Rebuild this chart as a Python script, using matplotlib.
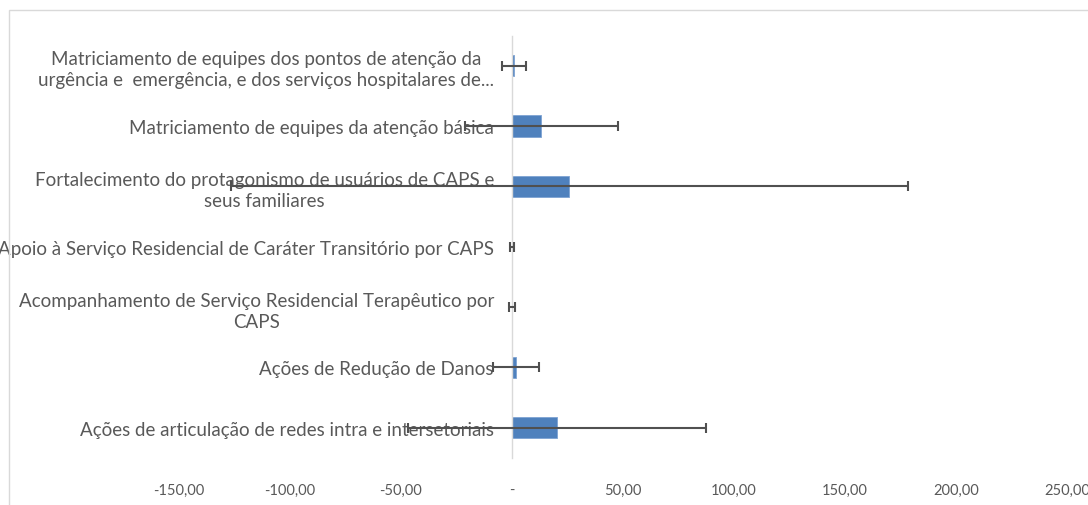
import matplotlib
matplotlib.use('Agg')
import matplotlib.pyplot as plt
from matplotlib.patches import Rectangle
import numpy as np

# categories, bottom to top as drawn
categories = [
    'Ações de articulação de redes intra e intersetoriais',
    'Ações de Redução de Danos',
    'Acompanhamento de Serviço Residencial Terapêutico por\nCAPS',
    'Apoio à Serviço Residencial de Caráter Transitório por CAPS',
    'Fortalecimento do protagonismo de usuários de CAPS e\nseus familiares',
    'Matriciamento de equipes da atenção básica',
    'Matriciamento de equipes dos pontos de atenção da\nurgência e  emergência, e dos serviços hospitalares de...',
]
means = [20.3, 1.8, 0.1, 0.0, 25.8, 13.2, 0.9]
errors = [67.0, 10.4, 1.4, 1.0, 152.4, 34.5, 5.3]
xticks = [-150, -100, -50, 0, 50, 100, 150, 200, 250]
xtick_labels = ['-150,00', '-100,00', '-50,00', '-', '50,00', '100,00', '150,00', '200,00', '250,00']

plt.rcParams['font.family'] = ['Lato', 'DejaVu Sans']
text_gray = '#595959'

fig = plt.figure(figsize=(10.88, 5.06), dpi=100)
ax = fig.add_axes([179 / 1088, 1 - 459 / 506, 888 / 1088, 422.5 / 506])

ypos = np.arange(len(categories))
ax.barh(ypos, means, height=0.35, color='#4f81bd', edgecolor='#7ea3d3',
        linewidth=0.6, zorder=1)
ax.errorbar(means, ypos, xerr=errors, fmt='none', ecolor='#505050',
            elinewidth=1.5, capsize=3.8, capthick=1.5, zorder=3)

ax.set_xlim(-150, 250)
ax.set_ylim(-0.5, 6.5)
ax.set_xticks(xticks, xtick_labels)
ax.set_yticks(ypos, categories)

for s in ['top', 'right', 'bottom']:
    ax.spines[s].set_visible(False)
ax.spines['left'].set_position(('data', 0))
ax.spines['left'].set_color('#d9d9d9')
ax.spines['left'].set_linewidth(1.0)

ax.tick_params(axis='y', length=0, pad=13, labelsize=13.5, labelcolor=text_gray)
ax.tick_params(axis='x', length=0, pad=18, labelsize=10.5, labelcolor=text_gray)
for lbl in ax.get_yticklabels():
    lbl.set_multialignment('center')
    lbl.set_linespacing(1.3)

# light chart border running off the image edge
fig.patches.append(Rectangle((8.5 / 1088, -0.1), 1.2, 1.1 - 11 / 506,
                             transform=fig.transFigure, fill=False,
                             edgecolor='#d9d9d9', linewidth=1.0))

fig.savefig('out.png', dpi=100)
